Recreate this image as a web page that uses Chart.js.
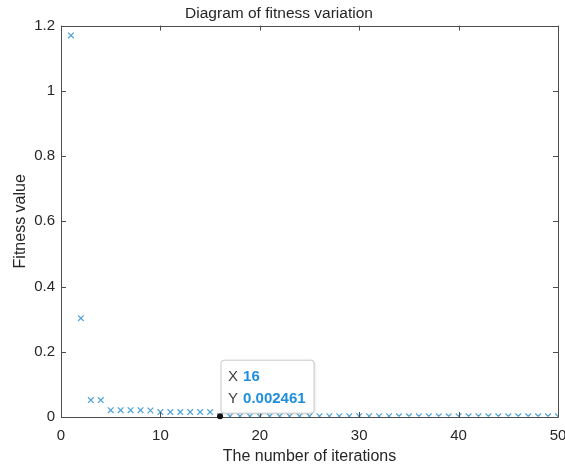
<!DOCTYPE html>
<html>
<head>
<meta charset="utf-8">
<script src="https://cdn.jsdelivr.net/npm/chart.js@4/dist/chart.umd.min.js"></script>
<style>
    html, body { margin: 0; padding: 0; background: #fff; }
    #wrap { width: 565px; height: 468px; }
</style>
</head>
<body>
<div id="wrap"><canvas id="fitnessChart" width="565" height="468"></canvas></div>
<script>
const iterations = [];
for (let i = 1; i <= 50; i++) iterations.push(i);

const fitness = [
    1.17, 0.303, 0.052, 0.052, 0.021, 0.021, 0.021, 0.021, 0.020, 0.015,
    0.015, 0.015, 0.015, 0.015, 0.015, 0.002461, 0.0024, 0.0024, 0.0024, 0.0024,
    0.0024, 0.0024, 0.0024, 0.0024, 0.0024, 0.0023, 0.0023, 0.0023, 0.0023, 0.0023,
    0.0023, 0.0023, 0.0023, 0.0022, 0.0022, 0.0022, 0.0022, 0.0022, 0.0022, 0.0022,
    0.0022, 0.0021, 0.0021, 0.0021, 0.0021, 0.0021, 0.0021, 0.0021, 0.0021, 0.0021
];

const xTicks = [0, 10, 20, 30, 40, 50];
const yTicks = [0, 0.2, 0.4, 0.6, 0.8, 1, 1.2];

const tipIndex = 15; // datatip at x = 16

const points = iterations.map((x, i) => ({ x: x, y: fitness[i] }));

const axisColor = "#4d4d4d";
const textColor = "#262626";
const fontFamily = "'Liberation Sans', Arial, Helvetica, sans-serif";

// box around axes with inward ticks, plus datatip
const matlabAxes = {
    id: "matlabAxes",
    afterDatasetsDraw(chart) {
        const ctx = chart.ctx;
        const a = chart.chartArea;
        const xs = chart.scales.x;
        const ys = chart.scales.y;
        ctx.save();
        ctx.strokeStyle = axisColor;
        ctx.lineWidth = 1;
        ctx.beginPath();
        ctx.rect(Math.round(a.left) + 0.5, Math.round(a.top) + 0.5,
            Math.round(a.right - a.left), Math.round(a.bottom - a.top));
        ctx.stroke();
        const len = 5;
        ctx.beginPath();
        xTicks.forEach(v => {
            const px = Math.round(xs.getPixelForValue(v)) + 0.5;
            ctx.moveTo(px, a.bottom); ctx.lineTo(px, a.bottom - len);
            ctx.moveTo(px, a.top); ctx.lineTo(px, a.top + len);
        });
        yTicks.forEach(v => {
            const py = Math.round(ys.getPixelForValue(v)) + 0.5;
            ctx.moveTo(a.left, py); ctx.lineTo(a.left + len, py);
            ctx.moveTo(a.right, py); ctx.lineTo(a.right - len, py);
        });
        ctx.stroke();

        // datatip
        const px = xs.getPixelForValue(iterations[tipIndex]);
        const py = ys.getPixelForValue(fitness[tipIndex]);
        const bx = px + 1, by = py - 56, bw = 93, bh = 53;
        ctx.shadowColor = "rgba(0,0,0,0.12)";
        ctx.shadowBlur = 3;
        ctx.shadowOffsetX = 1;
        ctx.shadowOffsetY = 1;
        ctx.fillStyle = "#ffffff";
        ctx.beginPath();
        ctx.roundRect(bx, by, bw, bh, 3);
        ctx.fill();
        ctx.shadowColor = "transparent";
        ctx.strokeStyle = "#c8c8c8";
        ctx.stroke();

        ctx.textBaseline = "middle";
        ctx.font = "15px " + fontFamily;
        ctx.fillStyle = "#404040";
        ctx.fillText("X", bx + 7, by + 17);
        ctx.fillText("Y", bx + 7, by + 39);
        ctx.font = "bold 15px " + fontFamily;
        ctx.fillStyle = "#1f8fdc";
        ctx.fillText(String(iterations[tipIndex]), bx + 22, by + 17);
        ctx.fillText(String(fitness[tipIndex]), bx + 22, by + 39);

        ctx.fillStyle = "#111111";
        ctx.beginPath();
        ctx.arc(px, py, 3, 0, Math.PI * 2);
        ctx.fill();
        ctx.restore();
    }
};

new Chart(document.getElementById("fitnessChart"), {
    type: "scatter",
    data: {
        datasets: [
            {
                label: "Fitness",
                data: points,
                pointStyle: "crossRot",
                pointRadius: 4,
                pointBorderWidth: 1.2,
                borderColor: "#4ea3d6",
                backgroundColor: "#4ea3d6",
                showLine: false,
            }
        ]
    },
    options: {
        responsive: false,
        animation: false,
        layout: { padding: { left: 0, right: 7, top: 0, bottom: 0 } },
        plugins: {
            legend: { display: false },
            tooltip: { enabled: false },
            title: {
                display: true,
                text: "Diagram of fitness variation",
                color: textColor,
                font: { family: fontFamily, size: 15.5, weight: "normal" },
                padding: { top: 4, bottom: 3 }
            }
        },
        scales: {
            x: {
                type: "linear",
                min: 0, max: 50,
                afterFit(scale) {
                    scale.height = 51;
                    scale.paddingLeft = 0;
                    scale.paddingRight = 0;
                },
                afterBuildTicks(scale) { scale.ticks = xTicks.map(v => ({ value: v })); },
                grid: { display: false, drawTicks: false },
                border: { display: false },
                ticks: { color: textColor, padding: 10, maxRotation: 0, font: { family: fontFamily, size: 15 } },
                title: {
                    display: true,
                    text: "The number of iterations",
                    color: textColor,
                    font: { family: fontFamily, size: 16 },
                    padding: { top: 0, bottom: 2 }
                }
            },
            y: {
                type: "linear",
                min: 0, max: 1.2,
                afterFit(scale) {
                    scale.width = 61;
                    scale.paddingTop = 0;
                    scale.paddingBottom = 0;
                },
                afterBuildTicks(scale) { scale.ticks = yTicks.map(v => ({ value: v })); },
                grid: { display: false, drawTicks: false },
                border: { display: false },
                ticks: {
                    color: textColor, padding: 6,
                    font: { family: fontFamily, size: 15 },
                    callback: v => String(Math.round(v * 10) / 10)
                },
                title: {
                    display: true,
                    text: "Fitness value",
                    color: textColor,
                    font: { family: fontFamily, size: 16 },
                    padding: { top: 11, bottom: 0 }
                }
            }
        }
    },
    plugins: [matlabAxes]
});
</script>
</body>
</html>
